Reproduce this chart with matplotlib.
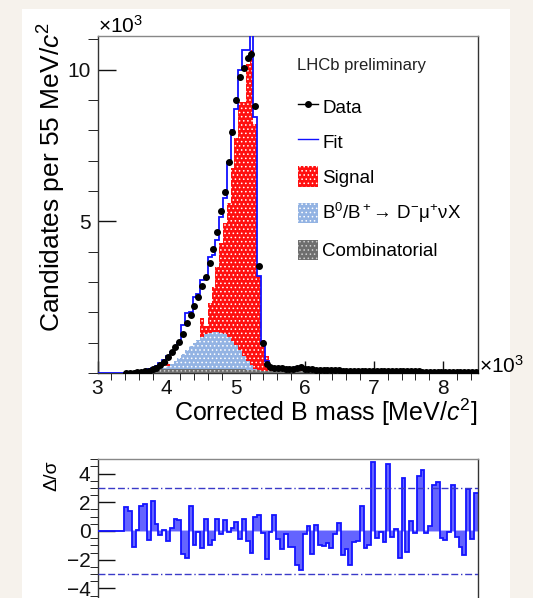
import numpy as np
import matplotlib.pyplot as plt
from matplotlib.lines import Line2D
from matplotlib.patches import Patch, Rectangle
from matplotlib.ticker import MultipleLocator, FixedLocator

plt.rcParams['font.family'] = ['Liberation Sans', 'DejaVu Sans']
plt.rcParams['mathtext.fontset'] = 'custom'
plt.rcParams['mathtext.rm'] = 'Liberation Sans'
plt.rcParams['mathtext.it'] = 'Liberation Sans:italic'
plt.rcParams['hatch.linewidth'] = 0.6

# ── BINNING: corrected B mass in 10^3 MeV/c^2, 55 MeV bins ──
x_lo, x_hi, n_bins = 3.0, 8.5, 100
edges = np.linspace(x_lo, x_hi, n_bins + 1)
centres = 0.5 * (edges[1:] + edges[:-1])

# ── CONTENTS (x10^3 candidates per bin) ──
fit = [0, 0, 0, 0, 0, 0, 0, 0.01, 0.01, 0.02,
       0.03, 0.05, 0.08, 0.12, 0.17, 0.23, 0.32, 0.44, 0.56, 0.70,
       0.82, 0.98, 1.58, 1.97, 2.00, 2.52, 2.60, 3.07, 3.12, 3.83,
       3.90, 4.40, 5.15, 5.77, 6.97, 8.00, 8.70, 10.00, 10.65, 10.65,
       12.0, 8.45, 3.20, 1.03, 0.40, 0.22, 0.17, 0.15, 0.15, 0.13,
       0.14, 0.13, 0.20, 0.20, 0.12, 0.11, 0.11, 0.10, 0.10, 0.09,
       0.09, 0.10, 0.08, 0.08, 0.08, 0.07, 0.07, 0.07, 0.07, 0.06,
       0.06, 0.06, 0.06, 0.05, 0.05, 0.05, 0.05, 0.05, 0.05, 0.04,
       0.04, 0.04, 0.04, 0.04, 0.04, 0.04, 0.04, 0.03, 0.03, 0.03,
       0.03, 0.03, 0.03, 0.03, 0.03, 0.03, 0.03, 0.03, 0.03, 0.03]

data = [0, 0, 0, 0, 0, 0, 0, 0.005, 0.01, 0.015,
        0.02, 0.03, 0.05, 0.08, 0.12, 0.17, 0.26, 0.37, 0.54, 0.70,
        0.87, 1.03, 1.29, 1.64, 1.91, 2.21, 2.52, 2.87, 3.18, 3.64,
        4.09, 4.64, 5.34, 5.98, 6.95, 7.93, 8.99, 9.75, 10.05, 10.38,
        10.52, 8.79, 3.54, 1.00, 0.30, 0.20, 0.17, 0.16, 0.15, 0.14,
        0.14, 0.14, 0.18, 0.19, 0.13, 0.12, 0.12, 0.11, 0.10, 0.10,
        0.10, 0.10, 0.09, 0.09, 0.08, 0.08, 0.08, 0.08, 0.07, 0.07,
        0.07, 0.07, 0.07, 0.06, 0.06, 0.06, 0.06, 0.06, 0.05, 0.05,
        0.05, 0.05, 0.05, 0.05, 0.05, 0.04, 0.04, 0.04, 0.04, 0.04,
        0.04, 0.04, 0.04, 0.04, 0.04, 0.04, 0.04, 0.04, 0.04, 0.04]

signal = [0, 0, 0, 0, 0, 0, 0, 0, 0, 0,
          0, 0, 0, 0, 0.03, 0.06, 0.10, 0.15, 0.30, 0.30,
          0.35, 0.45, 0.55, 0.65, 0.75, 0.90, 1.00, 1.80, 1.55, 2.30,
          2.85, 3.50, 4.28, 4.93, 5.60, 6.76, 7.74, 8.95, 8.95, 10.20,
          10.65, 8.20, 3.20, 1.09, 0.55, 0.25, 0.12, 0.10, 0.08, 0.10,
          0.08, 0.10, 0.18, 0.15, 0.06, 0.05, 0.05, 0.04, 0.04, 0.04,
          0.03, 0.04, 0.03, 0.03, 0.03, 0.02, 0.02, 0.02, 0.02, 0.02,
          0.02, 0.02, 0.02, 0.01, 0.01, 0.01, 0.01, 0.01, 0.01, 0.01,
          0.01, 0.01, 0.01, 0.01, 0.01, 0.01, 0.01, 0.01, 0.01, 0.01,
          0.01, 0.01, 0.01, 0.01, 0.01, 0.01, 0.01, 0.01, 0.01, 0.01]

dmunu = [0, 0, 0, 0, 0, 0, 0, 0, 0, 0,
         0.01, 0.02, 0.03, 0.05, 0.07, 0.10, 0.13, 0.17, 0.22, 0.30,
         0.38, 0.50, 0.62, 0.75, 0.88, 1.00, 1.10, 1.20, 1.28, 1.32,
         1.35, 1.36, 1.33, 1.28, 1.20, 1.05, 0.92, 0.75, 0.55, 0.40,
         0.26, 0.12, 0.05, 0.03, 0.02, 0.02, 0.02, 0.02, 0.02, 0.02,
         0.02, 0.02, 0.02, 0.02, 0.02, 0.02, 0.02, 0.02, 0.02, 0.02,
         0.01, 0.01, 0.01, 0.01, 0.01, 0.01, 0.01, 0.01, 0.01, 0.01,
         0.01, 0.01, 0.01, 0.01, 0.01, 0.01, 0.01, 0.01, 0.01, 0.01,
         0.01, 0.01, 0.01, 0.01, 0.01, 0.01, 0.01, 0.01, 0.01, 0.01,
         0.01, 0.01, 0.01, 0.01, 0.01, 0.01, 0.01, 0.01, 0.01, 0.01]

combinatorial = [0, 0, 0, 0, 0, 0, 0, 0, 0, 0,
                 0.03, 0.05, 0.08, 0.10, 0.11, 0.12, 0.12, 0.13, 0.12, 0.13,
                 0.14, 0.13, 0.12, 0.14, 0.13, 0.12, 0.14, 0.13, 0.12, 0.13,
                 0.12, 0.14, 0.13, 0.12, 0.13, 0.12, 0.13, 0.12, 0.12, 0.11,
                 0.11, 0.10, 0.09, 0.08, 0.07, 0.06, 0.06, 0.06, 0.05, 0.05,
                 0.05, 0.05, 0.05, 0.05, 0.05, 0.05, 0.04, 0.04, 0.04, 0.04,
                 0.04, 0.04, 0.04, 0.04, 0.04, 0.04, 0.03, 0.03, 0.03, 0.03,
                 0.03, 0.03, 0.03, 0.03, 0.03, 0.03, 0.03, 0.03, 0.03, 0.03,
                 0.03, 0.03, 0.03, 0.03, 0.03, 0.03, 0.03, 0.03, 0.03, 0.03,
                 0.03, 0.03, 0.03, 0.03, 0.03, 0.03, 0.03, 0.03, 0.03, 0.03]

# pull per bin for the lower pad
pull = [0, 0, 0, 0, 0, 0, 0,
        1.65, 1.38, -1.1, 0.05, 1.75, 1.9, -0.65, 2.07, 0.5, -0.3,
        0.1, -0.7, 0.23, 0.83, 0.78, -1.57, -1.9, 1.73, -1.0, -0.1,
        -1.17, 0.83, -1.0, -0.65, 0.83, -0.2, 0.78, -0.1, 0.23, 0.65,
        -0.58, 0.83, -0.7, -1.52, 0.97, 1.1, -0.14, -1.96, -0.1, 1.1,
        -0.55, -1.22, -0.23, -1.1, -1.1, -2.37, -2.72, -0.18, 0.37, -1.59,
        0.41, -0.97, -1.06, -0.83, -1.17, -0.18, 0.58, -1.64, -1.22, -2.4,
        -0.76, -0.7, 1.75, -1.15, -1.0, 4.84, -0.46, -0.05, -0.76, 4.65,
        -0.44, 0.16, -1.9, 3.69, -1.45, 0.71, -0.12, 3.83, 4.24, -0.12,
        0.32, 3.18, 3.41, -0.46, -0.65, -0.1, 3.18, -0.41, -1.1, -1.7,
        2.93, -0.58, 2.63]

y_ticks = [5, 10]
pull_ticks = [-4, -2, 0, 2, 4]
pull_band = 3

# ── STYLE ──
RED = '#ff1010'
AZURE = '#93b3e3'
GREY = '#6e6e6e'
FIT_BLUE = '#1010ff'

fig = plt.figure(figsize=(5.33, 5.98), dpi=100, facecolor='#f6f2ec')
fig.add_artist(Rectangle((22 / 533, 0), 488 / 533, 589 / 598,
                         transform=fig.transFigure, facecolor='white',
                         edgecolor='none', zorder=-10))

# ── MAIN PAD ──
ax = fig.add_axes([97.5 / 533, 1 - 373 / 598, 380 / 533, 337 / 598])
ax.stairs(signal, edges, fill=True, facecolor=RED, edgecolor='white',
          hatch='....', linewidth=0, zorder=2)
ax.stairs(dmunu, edges, fill=True, facecolor=AZURE, edgecolor='white',
          hatch='....', linewidth=0, zorder=3)
ax.stairs(combinatorial, edges, fill=True, facecolor=GREY, edgecolor='#d0d0d0',
          hatch='....', linewidth=0, zorder=4)
ax.stairs(fit, edges, color=FIT_BLUE, linewidth=1.3, zorder=5)

data = np.array(data)
mask = data > 0
err = np.sqrt(data * 1000) / 1000
ax.errorbar(centres[mask], data[mask], yerr=err[mask], xerr=0.0275,
            fmt='o', color='black', markersize=4, elinewidth=1,
            capsize=0, zorder=6)

ax.set_xlim(x_lo, x_hi)
ax.set_ylim(0, 11.11)
ax.xaxis.set_major_locator(FixedLocator([3, 4, 5, 6, 7, 8]))
ax.xaxis.set_minor_locator(MultipleLocator(0.2))
ax.yaxis.set_major_locator(FixedLocator(y_ticks))
ax.yaxis.set_minor_locator(MultipleLocator(1))
ax.tick_params(direction='in', labelsize=15, width=1, colors='#111111')
ax.tick_params(axis='y', which='major', length=13, pad=5)
ax.tick_params(axis='y', which='minor', length=7)
ax.tick_params(axis='x', which='major', length=9, pad=4)
ax.tick_params(axis='x', which='minor', length=5)
for s in ax.spines.values():
    s.set_linewidth(1)
    s.set_color('#333333')
ax.spines['top'].set_color('#888888')

ax.text(0, 1.009, '×10$^3$', transform=ax.transAxes, fontsize=15,
        ha='left', va='baseline')
ax.text(1.003, 0.0, '×10$^3$', transform=ax.transAxes, fontsize=15,
        ha='left', va='baseline')
ax.text(0.526, 0.898, 'LHCb preliminary', transform=ax.transAxes,
        fontsize=12, ha='left', va='baseline', color='#222222')

handles = [
    Line2D([], [], color='black', marker='o', markersize=4, linewidth=1),
    Line2D([], [], color=FIT_BLUE, linewidth=1),
    Patch(facecolor=RED, edgecolor='white', hatch='....', linewidth=0),
    Patch(facecolor=AZURE, edgecolor='white', hatch='....', linewidth=0),
    Patch(facecolor=GREY, edgecolor='#d0d0d0', hatch='....', linewidth=0),
]
labels = ['Data', 'Fit', 'Signal',
          'B$^0$/B$^+$→ D$^{-}$μ$^{+}$νX', 'Combinatorial']
fig.legend(handles, labels, loc='upper left',
           bbox_to_anchor=(298 / 533, 1 - 96 / 598), frameon=False,
           fontsize=13.5, borderpad=0, borderaxespad=0, handlelength=1.07,
           handleheight=1.33, handletextpad=0.22, labelspacing=0.76)

fig.text(52 / 533, 1 - 177 / 598, 'Candidates per 55 MeV/$c^2$',
         rotation=90, ha='center', va='center', fontsize=19)
fig.text(478 / 533, 1 - 412 / 598, 'Corrected B mass [MeV/$c^2$]',
         ha='right', va='center', fontsize=18)

# ── PULL PAD ──
ax2 = fig.add_axes([97.5 / 533, 1 - 603.5 / 598, 380 / 533, 145 / 598])
ax2.stairs(pull, edges, fill=True, facecolor='#6464ff', edgecolor='none',
           baseline=0, zorder=2)
ax2.stairs(pull, edges, color='#1414ff', linewidth=1.3, baseline=None,
           zorder=3)
ax2.axhline(0, color='#a8a8ff', linewidth=1.2, zorder=1)
for lvl in (pull_band, -pull_band):
    ax2.axhline(lvl, color='#3a3ac8', linewidth=1,
                linestyle=(0, (5, 2, 5, 2, 5, 2, 1, 2)), zorder=4)
ax2.set_xlim(x_lo, x_hi)
ax2.set_ylim(-5.05, 5.05)
ax2.yaxis.set_major_locator(FixedLocator(pull_ticks))
ax2.yaxis.set_minor_locator(MultipleLocator(0.5))
ax2.set_yticklabels(['−4', '−2', '0', '2', '4'])
ax2.set_xticks([])
ax2.tick_params(axis='y', direction='in', labelsize=15, width=1,
                colors='#111111', pad=5)
ax2.tick_params(axis='y', which='major', length=12)
ax2.tick_params(axis='y', which='minor', length=6)
for s in ax2.spines.values():
    s.set_linewidth(1)
    s.set_color('#333333')
ax2.spines['top'].set_color('#888888')
fig.text(52 / 533, 1 - 476 / 598, 'Δ/σ', rotation=90, ha='center',
         va='center', fontsize=14)

fig.savefig('out.png', dpi=100, facecolor=fig.get_facecolor())
